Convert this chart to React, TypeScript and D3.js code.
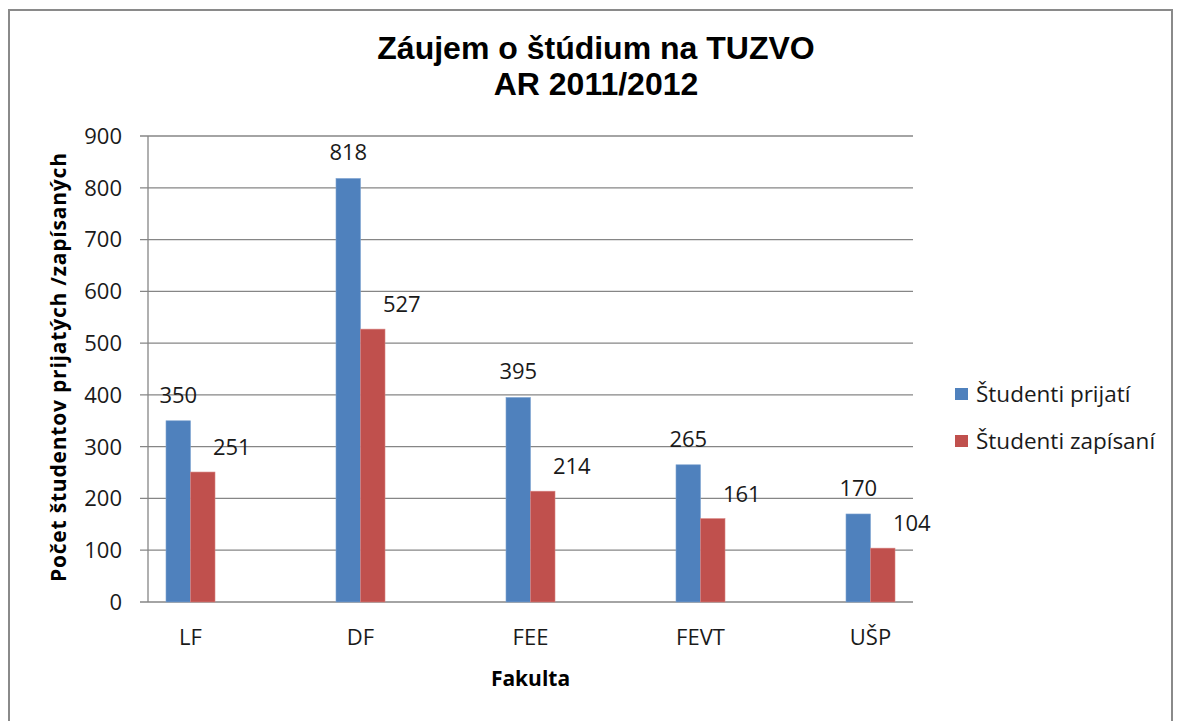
import React from "react";
import * as d3 from "d3";

// data
const faculties = ["LF", "DF", "FEE", "FEVT", "UŠP"];
const prijati = [350, 818, 395, 265, 170];
const zapisani = [251, 527, 214, 161, 104];
const seriesNames = ["Študenti prijatí", "Študenti zapísaní"];
const yTicks = [0, 100, 200, 300, 400, 500, 600, 700, 800, 900];

const colors = ["#4F81BD", "#C0504D"];
const W = 1177;
const H = 721;
const plot = { left: 148, right: 913, top: 136, bottom: 602 };
const barW = 24.5;
const font = "'Open Sans', sans-serif";

const App = () => {
  const x = d3
    .scalePoint<string>()
    .domain(faculties)
    .range([plot.left, plot.right])
    .padding(0.25);
  const y = d3.scaleLinear().domain([0, 900]).range([plot.bottom, plot.top]);

  const series = [prijati, zapisani];

  return (
    <div>
      <style>{`body{margin:0}`}</style>
      <svg width={W} height={H} style={{ display: "block", background: "#fff" }}>
        <rect x={9} y={10} width={1163} height={730} fill="#fff" stroke="#8a8a8a" strokeWidth={2} />

        <text x={596} y={59} textAnchor="middle" fontFamily="'Liberation Sans', Arial, sans-serif" fontWeight="bold" fontSize={32} fill="#000">
          Záujem o štúdium na TUZVO
        </text>
        <text x={596} y={95} textAnchor="middle" fontFamily="'Liberation Sans', Arial, sans-serif" fontWeight="bold" fontSize={32} fill="#000">
          AR 2011/2012
        </text>

        {/* gridlines + y ticks */}
        {yTicks.map((t) => (
          <g key={t}>
            <line x1={plot.left - 8} x2={plot.right} y1={y(t)} y2={y(t)} stroke="#868686" strokeWidth={1.3} />
            <text x={122} y={y(t)} dy="0.36em" textAnchor="end" fontFamily={font} fontSize={22} fill="#1a1a1a">
              {t}
            </text>
          </g>
        ))}
        <line x1={plot.left} x2={plot.left} y1={plot.top} y2={plot.bottom} stroke="#868686" strokeWidth={1.3} />

        {/* bars */}
        {series.map((vals, s) =>
          vals.map((v, i) => {
            const bx = (x(faculties[i]) as number) - barW + s * barW;
            return (
              <rect
                key={`${s}-${i}`}
                x={bx}
                y={y(v)}
                width={barW}
                height={y(0) - y(v)}
                fill={colors[s]}
                stroke={s === 0 ? "#7fa3d0" : "#d78280"}
                strokeWidth={0.6}
              />
            );
          })
        )}

        {/* data labels */}
        {series.map((vals, s) =>
          vals.map((v, i) => {
            const cx = (x(faculties[i]) as number) - barW / 2 + s * barW;
            return (
              <text
                key={`l${s}-${i}`}
                x={cx + (s === 0 ? 0 : 29)}
                y={y(v) - (s === 0 ? 18 : 17)}
                textAnchor="middle"
                fontFamily={font}
                fontSize={22}
                fill="#1a1a1a"
              >
                {v}
              </text>
            );
          })
        )}

        {/* x labels */}
        {faculties.map((f) => (
          <text key={f} x={x(f)} y={645} textAnchor="middle" fontFamily={font} fontSize={22} fill="#1a1a1a">
            {f}
          </text>
        ))}

        <text x={(plot.left + plot.right) / 2} y={686} textAnchor="middle" fontFamily={font} fontWeight="bold" fontSize={21} fill="#000">
          Fakulta
        </text>
        <text
          transform={`translate(66, ${(153 + 582) / 2}) rotate(-90)`}
          textAnchor="middle"
          fontFamily={font}
          fontWeight="bold"
          fontSize={21}
          textLength={429}
          lengthAdjust="spacing"
          fill="#000"
        >
          Počet študentov prijatých /zapísaných
        </text>

        {/* legend */}
        {seriesNames.map((n, s) => (
          <g key={n} transform={`translate(955, ${394 + s * 47})`}>
            <rect x={0} y={-6} width={13} height={12} fill={colors[s]} />
            <text x={21} y={0} dy="0.36em" fontFamily={font} fontSize={22.5} fill="#1a1a1a">
              {n}
            </text>
          </g>
        ))}
      </svg>
    </div>
  );
};

export default App;
